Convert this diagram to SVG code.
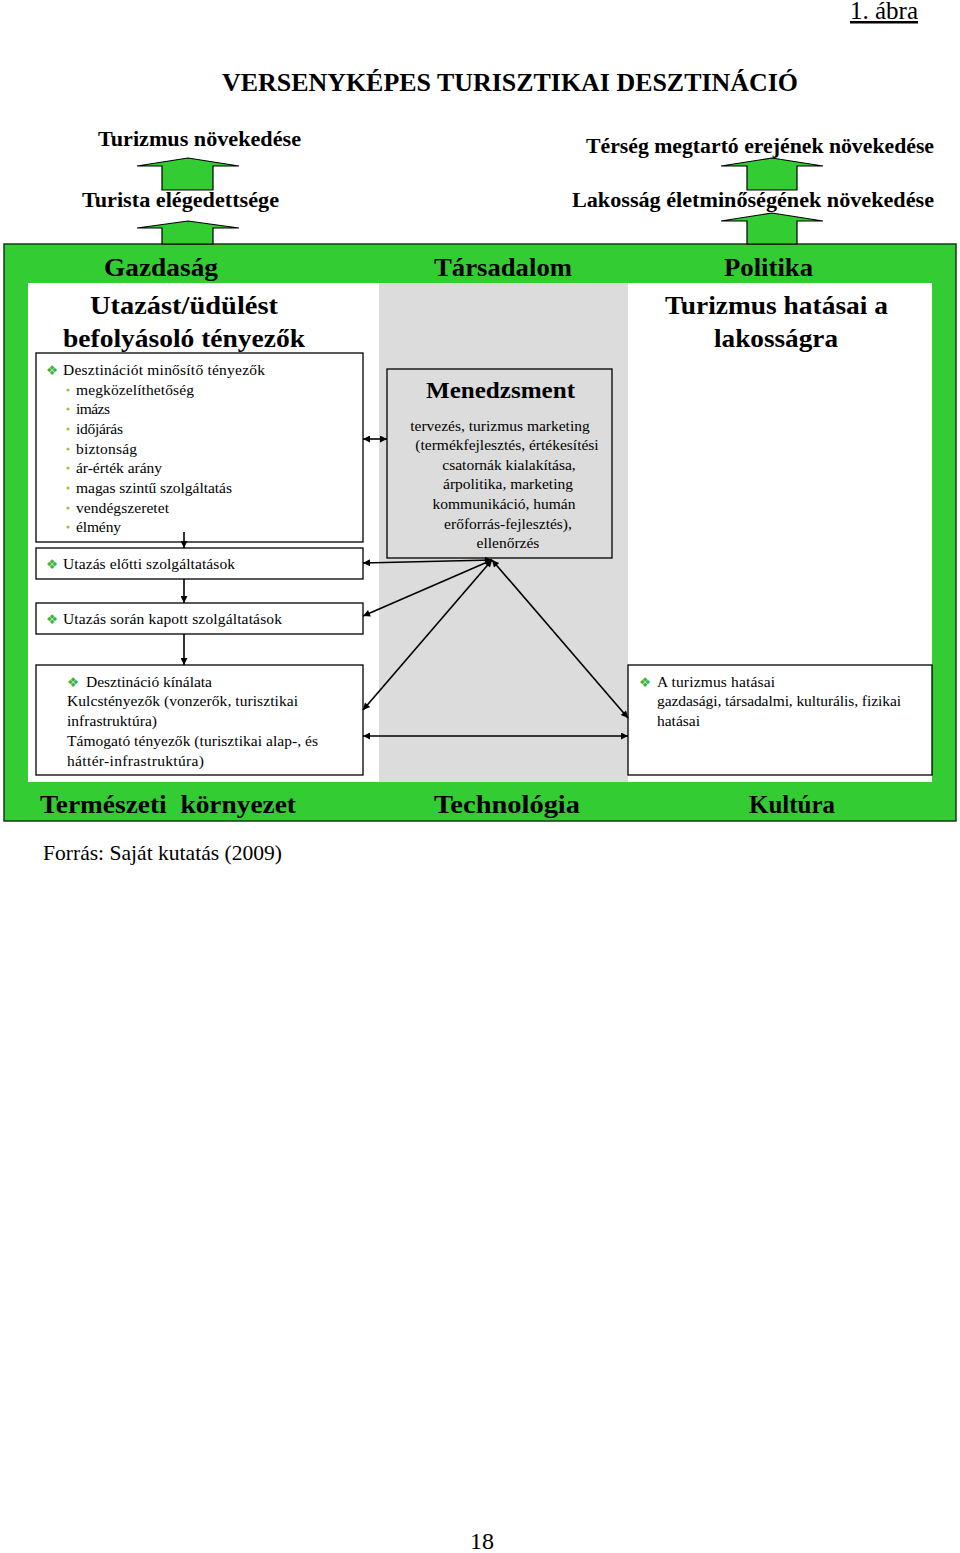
<svg xmlns="http://www.w3.org/2000/svg" width="960" height="1553" viewBox="0 0 960 1553">
<defs>
<marker id="ah" viewBox="0 0 10 10" refX="10" refY="5" markerUnits="userSpaceOnUse" markerWidth="9" markerHeight="7" orient="auto-start-reverse"><path d="M0,0 L10,5 L0,10 z" fill="#000"/></marker>
</defs>
<style>
.t{font-family:"Liberation Serif","Times New Roman",serif;fill:#000}
.h{font-weight:bold;font-size:26px}
.s{font-weight:bold;font-size:20px}
.b{font-size:15.5px}
.box{fill:#fff;stroke:#000;stroke-width:1.3}
.ba{fill:#33cc33;stroke:#000;stroke-width:1.2;stroke-linejoin:miter}
.c{stroke:#000;stroke-width:1.6;fill:none}
.d{marker-end:url(#ah)}
.dd{marker-start:url(#ah);marker-end:url(#ah)}
.bul{font-family:"DejaVu Sans",sans-serif;font-size:13.5px;fill:#3cb43c}
.dot{fill:#a5c040}
</style>
<rect x="0" y="0" width="960" height="1553" fill="#fff"/>

<g id="page">
<text class="t" x="850" y="19" font-size="25" textLength="68" lengthAdjust="spacingAndGlyphs" text-decoration="underline">1. ábra</text>
<text class="t" x="222" y="91" font-size="26" font-weight="bold" textLength="576" lengthAdjust="spacingAndGlyphs">VERSENYKÉPES TURISZTIKAI DESZTINÁCIÓ</text>
<text class="t" x="43" y="860" font-size="21.5" textLength="239" lengthAdjust="spacingAndGlyphs">Forrás: Saját kutatás (2009)</text>
<text class="t" x="470" y="1549" font-size="24">18</text>
</g>

<g id="frame">
<rect x="4" y="244" width="952" height="577" fill="#33cc33" stroke="#1a3a1a" stroke-width="1.5"/>
<rect x="28" y="283" width="904" height="499" fill="#fff"/>
<rect x="379" y="283" width="249" height="499" fill="#dcdcdc"/>
<text class="t h" x="104" y="276" textLength="114" lengthAdjust="spacingAndGlyphs">Gazdaság</text>
<text class="t h" x="434" y="276" textLength="138" lengthAdjust="spacingAndGlyphs">Társadalom</text>
<text class="t h" x="724" y="276" textLength="89" lengthAdjust="spacingAndGlyphs">Politika</text>
<text class="t h" x="40" y="813" textLength="256" lengthAdjust="spacingAndGlyphs">Természeti&#160; környezet</text>
<text class="t h" x="434" y="813" textLength="146" lengthAdjust="spacingAndGlyphs">Technológia</text>
<text class="t h" x="749" y="813" textLength="86" lengthAdjust="spacingAndGlyphs">Kultúra</text>
<text class="t h" x="90" y="314" textLength="188" lengthAdjust="spacingAndGlyphs">Utazást/üdülést</text>
<text class="t h" x="63" y="347" textLength="242" lengthAdjust="spacingAndGlyphs">befolyásoló tényezők</text>
<text class="t h" x="665" y="314" textLength="223" lengthAdjust="spacingAndGlyphs">Turizmus hatásai a</text>
<text class="t h" x="714" y="347" textLength="124" lengthAdjust="spacingAndGlyphs">lakosságra</text>
</g>

<g id="top-left">
<text class="t s" x="98" y="146" textLength="203" lengthAdjust="spacingAndGlyphs">Turizmus növekedése</text>
<polygon class="ba" points="162,190 162,166 137,166 188,158 239,166 213,166 213,190"/>
<text class="t s" x="82" y="207" textLength="197" lengthAdjust="spacingAndGlyphs">Turista elégedettsége</text>
<polygon class="ba" points="162,244 162,228 137,228 188,221 239,228 213,228 213,244"/>
</g>

<g id="top-right">
<text class="t s" x="586" y="153" textLength="348" lengthAdjust="spacingAndGlyphs">Térség megtartó erejének növekedése</text>
<polygon class="ba" points="747,190 747,166 721,166 772,158 823,166 797,166 797,190"/>
<text class="t s" x="572" y="207" textLength="362" lengthAdjust="spacingAndGlyphs">Lakosság életminőségének növekedése</text>
<polygon class="ba" points="747,244 747,221 721,221 772,213 823,221 797,221 797,244"/>
</g>

<g id="n-tenyezok">
<rect class="box" x="36" y="353" width="327" height="189"/>
<text class="bul" x="46" y="375">❖</text>
<text class="t b" x="63" y="375" textLength="202">Desztinációt minősítő tényezők</text>
<circle class="dot" cx="68" cy="390" r="1.6"/><text class="t b" x="76" y="395" textLength="118">megközelíthetőség</text>
<circle class="dot" cx="68" cy="409" r="1.6"/><text class="t b" x="76" y="414" textLength="34">imázs</text>
<circle class="dot" cx="68" cy="429" r="1.6"/><text class="t b" x="76" y="434" textLength="47">időjárás</text>
<circle class="dot" cx="68" cy="449" r="1.6"/><text class="t b" x="76" y="454" textLength="61">biztonság</text>
<circle class="dot" cx="68" cy="468" r="1.6"/><text class="t b" x="76" y="473" textLength="86">ár-érték arány</text>
<circle class="dot" cx="68" cy="488" r="1.6"/><text class="t b" x="76" y="493" textLength="156">magas szintű szolgáltatás</text>
<circle class="dot" cx="68" cy="508" r="1.6"/><text class="t b" x="76" y="513" textLength="93">vendégszeretet</text>
<circle class="dot" cx="68" cy="527" r="1.6"/><text class="t b" x="76" y="532" textLength="45">élmény</text>
</g>

<g id="n-elotti">
<rect class="box" x="36" y="548" width="327" height="31"/>
<text class="bul" x="46" y="569">❖</text>
<text class="t b" x="63" y="569" textLength="172">Utazás előtti szolgáltatások</text>
</g>

<g id="n-soran">
<rect class="box" x="36" y="603" width="327" height="31"/>
<text class="bul" x="46" y="624">❖</text>
<text class="t b" x="63" y="624" textLength="219">Utazás során kapott szolgáltatások</text>
</g>

<g id="n-kinalat">
<rect class="box" x="36" y="665" width="327" height="110"/>
<text class="bul" x="67" y="687">❖</text>
<text class="t b" x="86" y="687" textLength="126">Desztináció kínálata</text>
<text class="t b" x="67" y="706" textLength="231">Kulcstényezők (vonzerők, turisztikai</text>
<text class="t b" x="67" y="726" textLength="90">infrastruktúra)</text>
<text class="t b" x="67" y="746" textLength="251">Támogató tényezők (turisztikai alap-, és</text>
<text class="t b" x="67" y="766" textLength="137">háttér-infrastruktúra)</text>
</g>

<g id="n-menedzsment">
<rect x="387" y="369" width="225" height="189" fill="#dcdcdc" stroke="#000" stroke-width="1.3"/>
<text class="t" x="426" y="398" font-size="24" font-weight="bold" textLength="149" lengthAdjust="spacingAndGlyphs">Menedzsment</text>
<g class="t b" text-anchor="middle">
<text x="500" y="431">tervezés, turizmus marketing</text>
<text x="507" y="450">(termékfejlesztés, értékesítési</text>
<text x="509" y="470">csatornák kialakítása,</text>
<text x="508" y="489">árpolitika, marketing</text>
<text x="504" y="509">kommunikáció, humán</text>
<text x="508" y="529">erőforrás-fejlesztés),</text>
<text x="508" y="548">ellenőrzés</text>
</g>
</g>

<g id="n-hatasok">
<rect class="box" x="628" y="665" width="304" height="110"/>
<text class="bul" x="639" y="687">❖</text>
<text class="t b" x="657" y="687" textLength="118">A turizmus hatásai</text>
<text class="t b" x="657" y="706" textLength="244">gazdasági, társadalmi, kulturális, fizikai</text>
<text class="t b" x="657" y="726" textLength="43">hatásai</text>
</g>

<g id="connectors">
<line class="c d" x1="184" y1="532" x2="184" y2="548"/>
<line class="c d" x1="184" y1="579" x2="184" y2="603"/>
<line class="c d" x1="184" y1="634" x2="184" y2="665"/>
<line class="c dd" x1="363" y1="439" x2="387" y2="439"/>
<line class="c dd" x1="492" y1="560" x2="363" y2="563"/>
<line class="c dd" x1="492" y1="560" x2="363" y2="616"/>
<line class="c dd" x1="492" y1="560" x2="363" y2="710"/>
<line class="c dd" x1="492" y1="560" x2="628" y2="718"/>
<line class="c dd" x1="363" y1="736" x2="628" y2="736"/>
</g>
</svg>
